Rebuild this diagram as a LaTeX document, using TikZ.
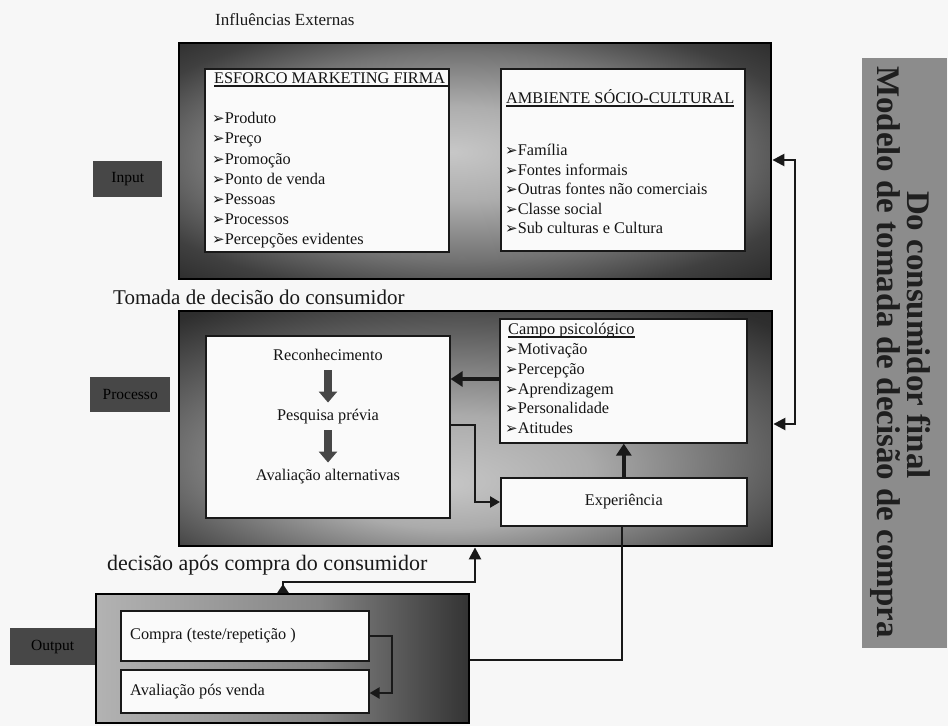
\documentclass[tikz,border=0pt]{standalone}
\usepackage{fontspec}
\setmainfont{Liberation Serif}
\newfontfamily\symf{DejaVu Sans}
\usetikzlibrary{arrows.meta,calc}
\pgfdeclareradialshading{shadeA}{\pgfpoint{-2bp}{2bp}}{color(0bp)=(black!22); color(10bp)=(black!32); color(22bp)=(black!55); color(30bp)=(black!75); color(40bp)=(black!88); color(50bp)=(black!90)}
\pgfdeclareradialshading{shadeB}{\pgfpoint{-3bp}{-12bp}}{color(0bp)=(black!22); color(12bp)=(black!33); color(26bp)=(black!62); color(36bp)=(black!82); color(50bp)=(black!88)}
\pgfdeclarehorizontalshading{shadeC}{100bp}{color(0bp)=(black!28); color(25bp)=(black!30); color(55bp)=(black!48); color(75bp)=(black!80); color(100bp)=(black!80)}
\newcommand\mybul{{\symf\fontsize{15}{12}\selectfont ➢}}
\begin{document}
\begin{tikzpicture}[x=1pt,y=-1pt,
  outer/.style={draw=black, line width=2.4pt, anchor=north west, inner sep=0pt, shade},
  box/.style={draw=black!90, line width=1.6pt, fill=white!98!black, anchor=north west, inner sep=0pt},
  lab/.style={fill=black!72, anchor=north west, inner sep=0pt, text=black, font=\fontsize{15.5}{18}\selectfont},
  txt/.style={anchor=west, inner sep=0pt, text=black!92, font=\fontsize{16.3}{19}\selectfont, text height=11pt, text depth=3.5pt},
  ctxt/.style={anchor=center, inner sep=0pt, text=black!92, font=\fontsize{16.3}{19}\selectfont, text height=11pt, text depth=3.5pt},
  ttl/.style={anchor=west, inner sep=0pt, text=black!90},
  ul/.style={line width=1.6pt, black!90},
  conn/.style={line width=2.4pt, black!90},
  bigarrow/.style={line width=3.6pt, black!90, -{Triangle[width=15pt,length=12pt]}},
  downarrow/.style={line width=8pt, black!72, -{Triangle[width=18pt,length=11pt]}},
  vtitle/.style={rotate=-90, inner sep=0pt, text=black!88, font=\fontsize{33}{33}\selectfont\bfseries}
]
\useasboundingbox (0,0) rectangle (948,726);
\fill[black!3] (0,0) rectangle (948,726);

% ---- outer boxes
\node[outer, shading=shadeA, minimum width=592pt, minimum height=236pt] (outer1) at (178,42) {};
\node[outer, shading=shadeB, minimum width=593pt, minimum height=235pt] (outer2) at (178,310) {};
\node[outer, shading=shadeC, minimum width=373pt, minimum height=129pt] (outer3) at (95,593) {};

% ---- inner boxes
\node[box, minimum width=244pt, minimum height=183pt] (mkt) at (204,68) {};
\node[box, minimum width=244pt, minimum height=182pt] (amb) at (500,68) {};
\node[box, minimum width=244pt, minimum height=182pt] (dec) at (205,335) {};
\node[box, minimum width=247pt, minimum height=124pt] (campo) at (499,318) {};
\node[box, minimum width=246pt, minimum height=48pt, font=\fontsize{16.3}{19}\selectfont, text=black!92] (exper) at (500,477) {Experiência};
\node[box, minimum width=248pt, minimum height=50pt] (compra) at (120,610) {};
\node[box, minimum width=248pt, minimum height=43pt] (aval) at (120,669) {};

% ---- side labels
\node[lab, minimum width=69pt, minimum height=36pt] (input) at (93,161) {Input};
\node[lab, minimum width=80pt, minimum height=35pt] (proc) at (90,377) {Processo};
\node[lab, minimum width=85pt, minimum height=37pt] (output) at (10,628) {Output};

% ---- vertical title
\node[fill=black!45, anchor=north west, inner sep=0pt, minimum width=85pt, minimum height=590pt] (tbox) at (862,58) {};
\node[vtitle] (t1) at (885,352) {Modelo de tomada de decisão de compra};
\node[vtitle] (t2) at (919,335) {Do consumidor final};

% ---- headings
\node[ttl, font=\fontsize{17}{20}\selectfont] (h1) at (215,20) {Influências Externas};
\node[ttl, font=\fontsize{21}{24}\selectfont] (h2) at (113,297) {Tomada de decisão do consumidor};
\node[ttl, font=\fontsize{22}{25}\selectfont] (h3) at (107,565) {decisão após compra do consumidor};

% ---- marketing box
\node[txt] (hm) at (214,80) {ESFORCO MARKETING FIRMA};
\draw[ul] ([yshift=-2.5pt]hm.base west) -- ([xshift=3pt,yshift=-2.5pt]hm.base east);
\foreach \t [count=\i] in {Produto,Preço,Promoção,Ponto de venda,Pessoas,Processos,Percepções evidentes}
  \node[txt] (m\i) at (212,{99.8+20.2*\i}) {\mybul\t};

% ---- socio-cultural box
\node[txt] (ha) at (506,100) {AMBIENTE SÓCIO-CULTURAL};
\draw[ul] ([yshift=-2.5pt]ha.base west) -- ([yshift=-2.5pt]ha.base east);
\foreach \t [count=\i] in {Família,Fontes informais,Outras fontes não comerciais,Classe social,Sub culturas e Cultura}
  \node[txt] (a\i) at (505,{132.5+19.5*\i}) {\mybul\t};

% ---- campo psicologico
\node[txt] (hc) at (508,331) {Campo psicológico};
\draw[ul] ([yshift=-2.5pt]hc.base west) -- ([yshift=-2.5pt]hc.base east);
\foreach \t [count=\i] in {Motivação,Percepção,Aprendizagem,Personalidade,Atitudes}
  \node[txt] (c\i) at (505,{331+19.8*\i}) {\mybul\t};

% ---- decision steps
\node[ctxt] (rec) at (328,357) {Reconhecimento};
\node[ctxt] (pes) at (328,417) {Pesquisa prévia};
\node[ctxt] (avl) at (328,477) {Avaliação alternativas};
\draw[downarrow, shorten <=6pt, shorten >=7pt] (rec.south) -- (pes.north);
\draw[downarrow, shorten <=6pt, shorten >=7pt] (pes.south) -- (avl.north);

% ---- output boxes text
\node[txt] (ct) at (130,636) {Compra (teste/repetição )};
\node[txt] (at) at (130,692) {Avaliação pós venda};

% ---- connectors
\coordinate (r1) at (795,160);
\coordinate (r2) at (795,424);
\draw[conn, {Triangle[width=12pt,length=12pt]}-{Triangle[width=12pt,length=12pt]}]
  (outer1.east |- r1) -- (r1) -- (r2) -- (outer2.east |- r2);

\coordinate (yA) at (0,379);
\draw[bigarrow] (campo.west |- yA) -- (dec.east |- yA);

\coordinate (k1) at (475,425);
\coordinate (k2) at (475,502);
\draw[conn, -{Triangle[width=11pt,length=10pt]}] (dec.east |- k1) -- (k1) -- (k2) -- (exper.west |- k2);

\draw[bigarrow] (exper.north) -- (exper.north |- campo.south);

\coordinate (c1) at (392,636);
\coordinate (c2) at (392,693);
\draw[conn, -{Triangle[width=11pt,length=10pt]}] (compra.east |- c1) -- (c1) -- (c2) -- (aval.east |- c2);

\coordinate (o1) at (283,582);
\coordinate (o2) at (475,582);
\draw[conn, {Triangle[reversed,width=11pt,length=9pt]}-{Triangle[width=12pt,length=12pt]}]
  (outer3.north -| o1) -- (o1) -- (o2) -- (o2 |- outer2.south);

\coordinate (o3) at (622,660);
\draw[conn] (outer3.east |- o3) -- (o3) -- (o3 |- exper.south);
\end{tikzpicture}
\end{document}
